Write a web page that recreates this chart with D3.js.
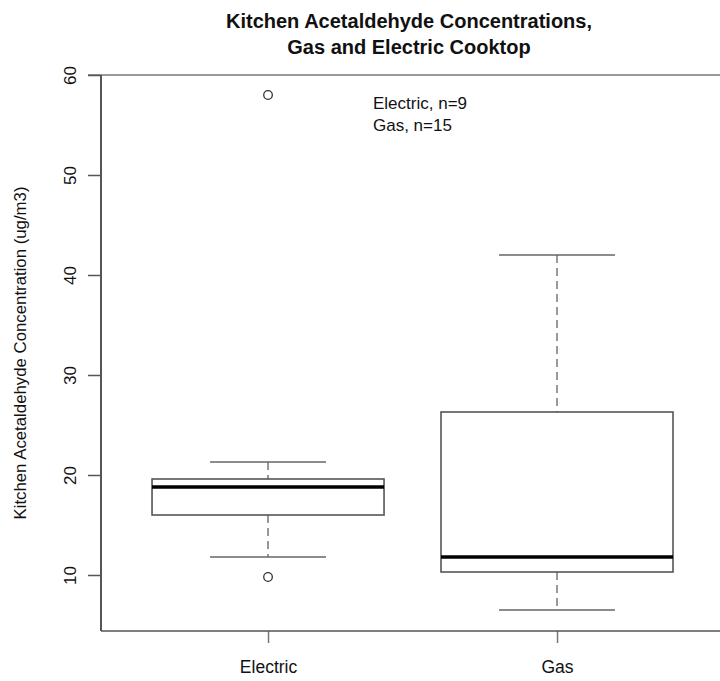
<!DOCTYPE html>
<html>
<head>
<meta charset="utf-8">
<script src="https://cdn.jsdelivr.net/npm/d3@7"></script>
<style>
  html, body { margin: 0; padding: 0; background: #fff; }
  svg text { font-family: "Liberation Sans", Arial, Helvetica, sans-serif; fill: #111; }
</style>
</head>
<body>
<svg id="chart" width="720" height="681"></svg>
<script>
// Cooktop groups and their box-plot summaries (ug/m3)
const groups = ["Electric", "Gas"];
const sampleSizes = [9, 15];
const whiskerLow = [11.8, 6.5];
const quartile1 = [16.0, 10.3];
const medians = [18.8, 11.8];
const quartile3 = [19.6, 26.3];
const whiskerHigh = [21.3, 42.0];
// Outlying observations: [group index, value]
const outliers = [[0, 58.0], [0, 9.8]];
const yTicks = [10, 20, 30, 40, 50, 60];

const svg = d3.select("#chart");

const x = d3.scaleLinear().domain([0.422, 2.564]).range([101, 720]);
const y = d3.scaleLinear().domain([4.4, 60]).range([631, 75]);

const boxHalf = 116, capHalf = 58;

// Title
const title = svg.append("text")
  .attr("text-anchor", "middle")
  .style("font-weight", "bold")
  .style("font-size", "20px");
title.append("tspan").attr("x", 409).attr("y", 28).text("Kitchen Acetaldehyde Concentrations,");
title.append("tspan").attr("x", 409).attr("y", 54).text("Gas and Electric Cooktop");

// Frame top line
svg.append("line")
  .attr("x1", 88).attr("x2", 720)
  .attr("y1", y(60)).attr("y2", y(60))
  .attr("stroke", "#999").attr("stroke-width", 2);

// Left axis
const yAxis = svg.append("g")
  .attr("transform", `translate(${x.range()[0]},0)`)
  .call(d3.axisLeft(y).tickValues(yTicks).tickSize(13).tickPadding(12));
yAxis.select(".domain").remove();
yAxis.selectAll(".tick line").attr("stroke", "#555").attr("stroke-width", 1.5);
yAxis.selectAll(".tick text")
  .attr("x", 0).attr("dy", null).attr("y", 0)
  .attr("text-anchor", "middle")
  .attr("transform", "translate(-25,0) rotate(-90)")
  .style("font-size", "17px")
  .style("font-family", "Liberation Sans, Arial, sans-serif")
  .attr("fill", "#111");
svg.append("line")
  .attr("x1", 101).attr("x2", 101)
  .attr("y1", y(60)).attr("y2", 631)
  .attr("stroke", "#555").attr("stroke-width", 2);

// Bottom axis
const xAxis = svg.append("g")
  .attr("transform", "translate(0,631)")
  .call(d3.axisBottom(x).tickValues([1, 2]).tickFormat((d, i) => groups[i]).tickSize(12).tickPadding(18));
xAxis.select(".domain").remove();
xAxis.selectAll(".tick line").attr("stroke", "#777").attr("stroke-width", 1.5);
xAxis.selectAll(".tick text")
  .style("font-size", "17.5px")
  .style("font-family", "Liberation Sans, Arial, sans-serif")
  .attr("fill", "#111");
svg.append("line")
  .attr("x1", 101).attr("x2", 720)
  .attr("y1", 631).attr("y2", 631)
  .attr("stroke", "#555").attr("stroke-width", 1.5);

// Y-axis title
svg.append("text")
  .attr("transform", `translate(26,${(y(60) + 631) / 2}) rotate(-90)`)
  .attr("text-anchor", "middle")
  .style("font-size", "16.8px")
  .text("Kitchen Acetaldehyde Concentration (ug/m3)");

// Box plots
const boxes = svg.append("g").selectAll("g").data(groups).join("g");

// Whiskers (dashed)
boxes.append("line")
  .attr("x1", (d, i) => x(i + 1)).attr("x2", (d, i) => x(i + 1))
  .attr("y1", (d, i) => y(whiskerHigh[i])).attr("y2", (d, i) => y(quartile3[i]))
  .attr("stroke", "#777").attr("stroke-width", 1.5).attr("stroke-dasharray", "8,5");
boxes.append("line")
  .attr("x1", (d, i) => x(i + 1)).attr("x2", (d, i) => x(i + 1))
  .attr("y1", (d, i) => y(quartile1[i])).attr("y2", (d, i) => y(whiskerLow[i]))
  .attr("stroke", "#777").attr("stroke-width", 1.5).attr("stroke-dasharray", "8,5");

// Whisker caps
[whiskerHigh, whiskerLow].forEach(arr => {
  boxes.append("line")
    .attr("x1", (d, i) => x(i + 1) - capHalf).attr("x2", (d, i) => x(i + 1) + capHalf)
    .attr("y1", (d, i) => y(arr[i])).attr("y2", (d, i) => y(arr[i]))
    .attr("stroke", "#666").attr("stroke-width", 1.5);
});

// Interquartile boxes
boxes.append("rect")
  .attr("x", (d, i) => x(i + 1) - boxHalf)
  .attr("width", boxHalf * 2)
  .attr("y", (d, i) => y(quartile3[i]))
  .attr("height", (d, i) => y(quartile1[i]) - y(quartile3[i]))
  .attr("fill", "none").attr("stroke", "#555").attr("stroke-width", 1.6);

// Medians
boxes.append("line")
  .attr("x1", (d, i) => x(i + 1) - boxHalf).attr("x2", (d, i) => x(i + 1) + boxHalf)
  .attr("y1", (d, i) => y(medians[i])).attr("y2", (d, i) => y(medians[i]))
  .attr("stroke", "#000").attr("stroke-width", 3.5);

// Outliers
svg.append("g").selectAll("circle").data(outliers).join("circle")
  .attr("cx", d => x(d[0] + 1)).attr("cy", d => y(d[1]))
  .attr("r", 4.3)
  .attr("fill", "none").attr("stroke", "#333").attr("stroke-width", 1.3);

// Sample-size note
const note = svg.append("text").style("font-size", "17px");
groups.forEach((g, i) => {
  note.append("tspan").attr("x", 373).attr("y", 109 + i * 22).text(`${g}, n=${sampleSizes[i]}`);
});
</script>
</body>
</html>
